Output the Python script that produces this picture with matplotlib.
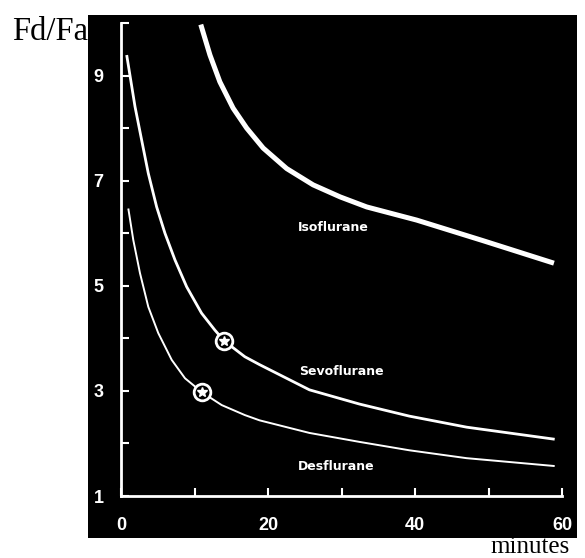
import numpy as np
import matplotlib
matplotlib.use('Agg')
import matplotlib.pyplot as plt

## curves (minutes, Fd/Fa)
iso_t = [10.8, 12.05, 13.4, 15.2, 17.05, 19.3, 22.5, 26.1, 29.8, 33.4, 40.2, 49.2, 58.9]
iso_y = [9.97, 9.39, 8.88, 8.38, 8.00, 7.62, 7.23, 6.92, 6.69, 6.50, 6.25, 5.86, 5.43]

sevo_t = [0.71, 1.84, 2.75, 3.65, 4.79, 5.92, 7.29, 8.88, 10.9, 12.7, 14.0, 16.8,
	18.8, 25.6, 32.4, 39.2, 47.0, 59.0]
sevo_y = [9.39, 8.41, 7.77, 7.14, 6.50, 6.00, 5.49, 4.98, 4.48, 4.16, 3.95, 3.65,
	3.50, 3.02, 2.75, 2.52, 2.31, 2.08]

des_t = [0.93, 1.61, 2.52, 3.65, 5.01, 6.84, 8.65, 11.0, 13.65, 16.8, 18.8, 25.6,
	32.4, 39.2, 47.0, 59.0]
des_y = [6.47, 5.87, 5.24, 4.60, 4.10, 3.59, 3.24, 2.97, 2.73, 2.54, 2.44, 2.20,
	2.03, 1.87, 1.72, 1.57]

## starred points
mark_t = [14.0, 11.0]
mark_y = [3.95, 2.97]

## label positions
names = ['Isoflurane', 'Sevoflurane', 'Desflurane']
name_t = [28.9, 30.0, 29.3]
name_y = [6.10, 3.36, 1.57]

xticks = [0, 10, 20, 30, 40, 50, 60]
xlabels = ['0', '', '20', '', '40', '', '60']
yticks = [1, 2, 3, 4, 5, 6, 7, 8, 9, 10]
ylabels = ['1', '', '3', '', '5', '', '7', '', '9', '']

W, H = 585, 558
fig = plt.figure(figsize=(W/100, H/100), dpi=100)
fig.patch.set_facecolor('white')

## serif captions, the first partly hidden behind the black panel
fig.text(12/W, 1-40/H, 'Fd/Fa', family='Liberation Serif', fontsize=23.5,
	color='black', ha='left', va='baseline', zorder=0)
fig.text(490/W, 1-553/H, 'minutes', family='Liberation Serif', fontsize=18,
	color='black', ha='left', va='baseline', zorder=0)

ax = fig.add_axes([88/W, 1-538/H, (577-88)/W, (538-15)/H])
ax.set_facecolor('black')
ax.set_zorder(1)
ax.set_xlim(-4.56, 62.04)
ax.set_ylim(0.201, 10.152)

ax.plot(iso_t, iso_y, color='white', lw=3.6, solid_capstyle='butt', solid_joinstyle='round')
ax.plot(sevo_t, sevo_y, color='white', lw=2.0, solid_capstyle='butt', solid_joinstyle='round')
ax.plot(des_t, des_y, color='white', lw=1.4, solid_capstyle='butt', solid_joinstyle='round')
ax.plot(mark_t, mark_y, 'o', ms=12, mfc='black', mec='white', mew=2)
ax.plot(mark_t, mark_y, '*', ms=7, color='white')

for nm, t, y in zip(names, name_t, name_y):
	ax.text(t, y, nm, color='white', fontsize=9, fontweight='bold',
		family='DejaVu Sans', ha='center', va='center')

for s in ['top', 'right']:
	ax.spines[s].set_visible(False)
ax.spines['left'].set_position(('data', 0))
ax.spines['bottom'].set_position(('data', 1))
ax.spines['left'].set_bounds(1, 10)
ax.spines['bottom'].set_bounds(0, 60)
for s in ['left', 'bottom']:
	ax.spines[s].set_color('white')
	ax.spines[s].set_linewidth(2)

ax.set_xticks(xticks)
ax.set_xticklabels(xlabels)
ax.set_yticks(yticks)
ax.set_yticklabels(ylabels)
ax.tick_params(axis='both', direction='in', length=6, width=1.5,
	color='white', labelcolor='white', labelsize=13)
ax.tick_params(axis='x', pad=15)
ax.tick_params(axis='y', pad=13)
for lab in ax.get_xticklabels() + ax.get_yticklabels():
	lab.set_family('Liberation Sans')
	lab.set_fontweight('bold')

fig.savefig('out.png', dpi=100, facecolor='white')
